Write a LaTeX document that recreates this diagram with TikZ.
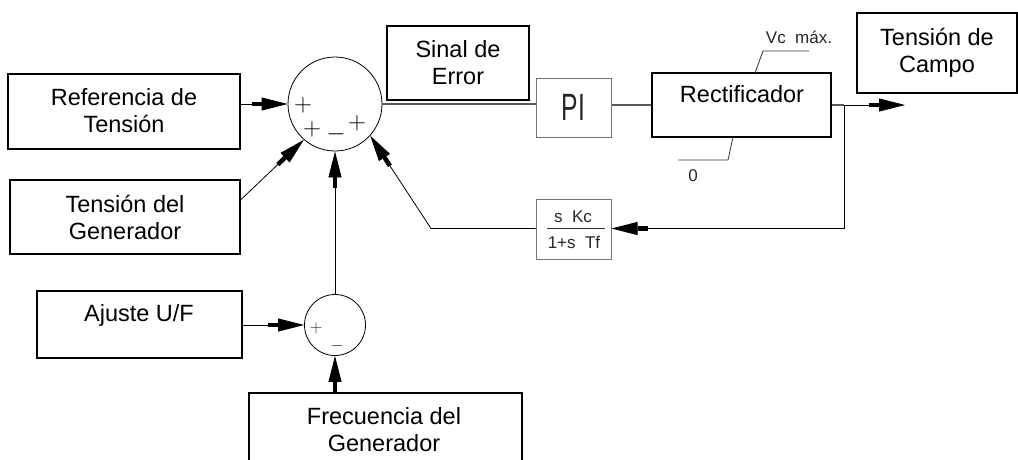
\documentclass[tikz,border=0pt]{standalone}
\usepackage{fontspec}
\setmainfont{Liberation Sans}
\newfontfamily\cadfont{Liberation Sans}[FakeStretch=0.65]
\newfontfamily\cadfontw{Liberation Sans}
\usetikzlibrary{arrows.meta,calc}
\tikzset{
  blk/.style={draw=black,line width=2pt,inner sep=0pt,align=center,font=\fontsize{23.5pt}{27pt}\selectfont},
  gblk/.style={draw=black!55,line width=1pt,inner sep=0pt,align=center},
  txt/.style={inner sep=0pt,align=center,font=\fontsize{23.5pt}{27pt}\selectfont},
  sumc/.style={draw=black,line width=0.8pt,circle,inner sep=0pt},
  conn/.style={draw=black,line width=0.8pt},
  fwd/.style={draw=black!65,line width=1.3pt},
  arr/.style={-{Rectangle[length=10pt,width=4.5pt,sep=0pt]Triangle[length=26pt,width=13pt]}},
  sgn/.style={inner sep=0pt,font=\fontsize{24pt}{24pt}\selectfont},
  ssgn/.style={inner sep=0pt,font=\fontsize{17pt}{17pt}\selectfont,text=black!85},
  cad/.style={inner sep=0pt,text=black!85},
  cadsm/.style={cad,font=\cadfontw\fontsize{17pt}{17pt}\selectfont}
}
\begin{document}
\begin{tikzpicture}[x=1pt,y=-1pt]
\useasboundingbox (0,0) rectangle (1018,459);
% boxes
\node[blk,minimum width=232pt,minimum height=75pt] (ref) at (124,111) {Referencia de\\Tensión};
\node[blk,minimum width=230pt,minimum height=74pt] (gen) at (125,217) {Tensión del\\Generador};
\node[blk,minimum width=205pt,minimum height=67pt] (aju) at (139.5,324.5) {};
\node[txt] (ajut) at (139,315) {Ajuste U/F};
\node[blk,minimum width=142pt,minimum height=74pt] (sinal) at (458,63) {Sinal de\\Error};
\node[gblk,minimum width=75pt,minimum height=59pt] (pi) at (573.5,107.5) {};
\node[cad,font=\cadfont\fontsize{38pt}{38pt}\selectfont] (pit) at (573.5,107.5) {PI};
\node[blk,minimum width=179pt,minimum height=64pt] (rect) at (741.5,105) {};
\node[txt] (rectt) at (742,94) {Rectificador};
\node[blk,minimum width=160pt,minimum height=80pt] (campo) at (937,53) {Tensión de\\Campo};
\node[gblk,minimum width=75pt,minimum height=60pt] (fb) at (573.5,229) {};
\node[cadsm] (fbn) at (573,217) {s~~Kc};
\node[cadsm] (fbd) at (574,242) {1+s~~Tf};
\draw[black!80,line width=0.8pt] (547,228.5) -- (605,228.5);
% Frecuencia box (cut off)
\coordinate (ftl) at (249,393);
\coordinate (ftop) at (335,393);
\draw[line width=2pt] (249,462) -- (ftl) -- (522,393) -- (522,462);
\node[txt] (frect) at (384,430) {Frecuencia del\\Generador};
% summing junctions
\node[sumc,minimum size=94pt] (sum) at (335,104) {};
\node[sumc,minimum size=61pt] (sm) at (335,325) {};
\node[sgn] (p1) at (303,105) {$+$};
\node[sgn] (p2) at (312,129) {$+$};
\node[sgn] (m1) at (336,134) {$-$};
\node[sgn] (p3) at (357,123) {$+$};
\node[ssgn] (sp) at (316,328) {$+$};
\node[ssgn] (sm1) at (337,346) {$-$};
% limits on rectifier
\coordinate (vtop) at (755,73);
\coordinate (vk) at (763,51);
\coordinate (ve) at (809,51);
\draw[conn,black!80] (vtop) -- (vk) -- (ve);
\node[cadsm] (vmax) at (799,37) {Vc~~máx.};
\coordinate (zb) at (733,137);
\coordinate (zk) at (728,160);
\coordinate (ze) at (678,160);
\draw[conn,black!80] (zb) -- (zk) -- (ze);
\node[cadsm] (zero) at (693,176) {0};
% forward path
\draw[fwd] (sum.east) -- (sum.east -| pi.west);
\draw[fwd] (pi.east |- rect.west) -- (rect.west);
\coordinate (br) at (844,105);
\coordinate (out) at (905,105);
\draw[fwd] (rect.east) -- (br);
\draw[conn,arr] (br) -- (out);
% feedback
\coordinate (fbr) at (844,228.5);
\coordinate (fbl) at (431,228.5);
\draw[conn] (br) -- (fbr);
\draw[conn,arr] (fbr) -- (fb.east |- fbr);
\draw[conn,arr] (fb.west |- fbl) -- (fbl) -- (sum.-42);
% inputs
\draw[conn,arr] (ref.east |- sum.west) -- (sum.west);
\coordinate (gs) at ($(gen.north east)!0.27!(gen.south east)$);
\draw[conn,arr] (gs) -- (sum.-131);
\draw[conn,arr] (sm.north) -- (sum.south);
\draw[conn,arr] (aju.east |- sm.west) -- (sm.west);
\draw[conn,arr] (ftop) -- (sm.south);
\end{tikzpicture}
\end{document}
